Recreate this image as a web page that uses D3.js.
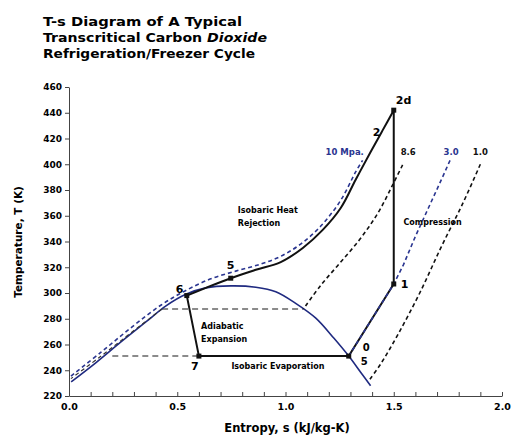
<!DOCTYPE html>
<html>
<head>
<meta charset="utf-8">
<script src="https://cdn.jsdelivr.net/npm/d3@7"></script>
<style>
  body { margin: 0; background: #fff; }
  text { font-family: "DejaVu Sans", sans-serif; font-weight: bold; }
</style>
</head>
<body>
<div id="chart"></div>
<script>
// ---- data (entropy s in kJ/kg-K, temperature T in K) ----
var titleLines = ["T-s Diagram of A Typical", "Transcritical Carbon |Dioxide", "Refrigeration/Freezer Cycle"];
var titleWidths = [199, 224, 212];
var sTicks = [0, 0.1, 0.2, 0.3, 0.4, 0.5, 0.6, 0.7, 0.8, 0.9, 1.0, 1.1, 1.2, 1.3, 1.4, 1.5, 1.6, 1.7, 1.8, 1.9, 2.0];
var sLabels = { "0": "0.0", "0.5": "0.5", "1": "1.0", "1.5": "1.5", "2": "2.0" };
var tTicks = [220, 240, 260, 280, 300, 320, 340, 360, 380, 400, 420, 440, 460];

// saturation dome
var dome = [[0.01, 231], [0.125, 246], [0.24, 262], [0.355, 277.5], [0.448, 290], [0.54, 299], [0.632, 304],
  [0.747, 305.5], [0.863, 304.5], [0.955, 301], [1.047, 292], [1.14, 280.5], [1.223, 265], [1.292, 251],
  [1.347, 238.5], [1.393, 228]];

// isobars
var iso10 = [[0.009, 235.5], [0.148, 254], [0.286, 273], [0.424, 290.5], [0.54, 302], [0.655, 311], [0.77, 317],
  [0.886, 322.5], [0.978, 328.5], [1.07, 338], [1.163, 352], [1.255, 372], [1.324, 394], [1.356, 403]];
var iso86 = [[1.541, 399.5], [1.495, 384], [1.43, 363], [1.347, 342.5], [1.255, 324], [1.163, 306], [1.083, 287.6]];
var iso86Liquid = [[0.43, 287.6], [0.286, 269], [0.148, 251], [0.009, 233.5]];
var iso30 = [[1.76, 403], [1.72, 388], [1.66, 366], [1.6, 344], [1.545, 322], [1.5, 307], [1.292, 251]];
var iso10b = [[1.9, 400], [1.82, 370], [1.72, 336], [1.62, 300], [1.52, 268], [1.44, 245], [1.39, 233]];
var flat86 = [[0.43, 287.6], [1.083, 287.6]];
var flatEvap = [[0.2, 251], [1.292, 251]];

// cycle
var heatRejection = [[1.5, 442], [1.449, 426.5], [1.393, 409.5], [1.324, 388], [1.255, 366], [1.172, 349],
  [1.08, 335], [0.978, 324], [0.863, 318], [0.747, 311.5], [0.632, 304], [0.544, 298]];
var cycleLegs = [[0.544, 298], [0.6, 251], [1.292, 251], [1.5, 307], [1.5, 442]];

var statePoints = [
  { name: "2d", s: 1.5, T: 442, dx: 2, dy: -6, size: 11 },
  { name: "2", s: 1.449, T: 426.5, dx: -10, dy: 6, size: 11 },
  { name: "1", s: 1.5, T: 307, dx: 7, dy: 4, size: 11 },
  { name: "0", s: 1.292, T: 251, dx: 14, dy: -5, size: 10 },
  { name: "5", s: 1.292, T: 251, dx: 12, dy: 9, size: 10 },
  { name: "7", s: 0.6, T: 251, dx: -8, dy: 14, size: 11 },
  { name: "6", s: 0.544, T: 298, dx: -11, dy: -3, size: 11 },
  { name: "5", s: 0.747, T: 311.5, dx: -4, dy: -9, size: 11 }
];
var markers = [[1.5, 442], [1.5, 307], [1.292, 251], [0.6, 251], [0.544, 298], [0.747, 311.5]];

var isobarLabels = [
  { text: "10 Mpa.", s: 1.185, T: 407, color: "#2a3590" },
  { text: "8.6", s: 1.532, T: 407, color: "#111" },
  { text: "3.0", s: 1.73, T: 407, color: "#2a3590" },
  { text: "1.0", s: 1.865, T: 407, color: "#111" }
];
var notes = [
  { lines: ["Isobaric Heat", "Rejection"], s: 0.78, T: 362 },
  { lines: ["Compression"], s: 1.545, T: 353 },
  { lines: ["Adiabatic", "Expansion"], s: 0.61, T: 272 },
  { lines: ["Isobaric Evaporation"], s: 0.75, T: 241 }
];

var W = 512, H = 437;
var svg = d3.select("#chart").append("svg").attr("width", W).attr("height", H);

var x = d3.scaleLinear().domain([0, 2]).range([69, 502]);
var y = d3.scaleLinear().domain([220, 460]).range([396, 87]);

// title
svg.append("g").selectAll("text")
  .data(titleLines)
  .enter().append("text")
  .attr("x", 43)
  .attr("y", function(d, i) { return 26 + i * 16; })
  .attr("textLength", function(d, i) { return titleWidths[i]; })
  .attr("lengthAdjust", "spacingAndGlyphs")
  .style("font-size", "12.5px")
  .each(function(d) {
    var parts = d.split("|");
    d3.select(this).append("tspan").text(parts[0]);
    if (parts[1]) d3.select(this).append("tspan").style("font-style", "italic").text(parts[1]);
  });

// axes
var xAxis = svg.append("g")
  .attr("transform", "translate(0,396)")
  .call(d3.axisBottom(x).tickValues(sTicks).tickSize(-4).tickSizeOuter(0)
    .tickFormat(function(d) { return sLabels[String(+d.toFixed(1))] || ""; }));
xAxis.selectAll("text").attr("dy", "1.15em").style("font-size", "9.5px");

var yAxis = svg.append("g")
  .attr("transform", "translate(69,0)")
  .call(d3.axisLeft(y).tickValues(tTicks).tickSize(4).tickSizeOuter(0));
yAxis.selectAll("text").style("font-size", "9px");
svg.selectAll(".domain, .tick line").attr("stroke", "#444");

svg.append("text")
  .attr("transform", "translate(22,242) rotate(-90)")
  .attr("text-anchor", "middle")
  .style("font-size", "10.5px")
  .text("Temperature, T (K)");
svg.append("text")
  .attr("x", 287).attr("y", 432)
  .attr("text-anchor", "middle")
  .style("font-size", "11.5px")
  .text("Entropy, s (kJ/kg-K)");

var smooth = d3.line()
  .x(function(d) { return x(d[0]); })
  .y(function(d) { return y(d[1]); })
  .curve(d3.curveCatmullRom);
var straight = d3.line()
  .x(function(d) { return x(d[0]); })
  .y(function(d) { return y(d[1]); });

// horizontal two-phase isobars
svg.append("path").attr("d", straight(flat86)).attr("fill", "none")
  .attr("stroke", "#666").attr("stroke-width", 1.5).attr("stroke-dasharray", "6,4");
svg.append("path").attr("d", straight(flatEvap)).attr("fill", "none")
  .attr("stroke", "#666").attr("stroke-width", 1.5).attr("stroke-dasharray", "6,4");

// dome
svg.append("path").attr("d", smooth(dome)).attr("fill", "none")
  .attr("stroke", "#1f2a80").attr("stroke-width", 1.6);

// cycle (black solid)
svg.append("path").attr("d", smooth(heatRejection)).attr("fill", "none")
  .attr("stroke", "#111").attr("stroke-width", 2);
svg.append("path").attr("d", straight(cycleLegs)).attr("fill", "none")
  .attr("stroke", "#111").attr("stroke-width", 2);

// dashed isobars
svg.append("path").attr("d", smooth(iso10)).attr("fill", "none")
  .attr("stroke", "#2a3590").attr("stroke-width", 1.6).attr("stroke-dasharray", "4,3");
svg.append("path").attr("d", smooth(iso86)).attr("fill", "none")
  .attr("stroke", "#111").attr("stroke-width", 1.6).attr("stroke-dasharray", "4,3");
svg.append("path").attr("d", smooth(iso86Liquid)).attr("fill", "none")
  .attr("stroke", "#333").attr("stroke-width", 1.2).attr("stroke-dasharray", "4,3");
svg.append("path").attr("d", straight(iso30)).attr("fill", "none")
  .attr("stroke", "#2a3590").attr("stroke-width", 1.6).attr("stroke-dasharray", "4,3");
svg.append("path").attr("d", smooth(iso10b)).attr("fill", "none")
  .attr("stroke", "#111").attr("stroke-width", 1.6).attr("stroke-dasharray", "4,3");

// state point markers
svg.append("g").selectAll("rect")
  .data(markers)
  .enter().append("rect")
  .attr("x", function(d) { return x(d[0]) - 2.5; })
  .attr("y", function(d) { return y(d[1]) - 2.5; })
  .attr("width", 5).attr("height", 5)
  .attr("fill", "#111");

svg.append("g").selectAll("text")
  .data(statePoints)
  .enter().append("text")
  .attr("x", function(d) { return x(d.s) + d.dx; })
  .attr("y", function(d) { return y(d.T) + d.dy; })
  .style("font-size", function(d) { return d.size + "px"; })
  .text(function(d) { return d.name; });

svg.append("g").selectAll("text")
  .data(isobarLabels)
  .enter().append("text")
  .attr("x", function(d) { return x(d.s); })
  .attr("y", function(d) { return y(d.T); })
  .attr("fill", function(d) { return d.color; })
  .style("font-size", "8.5px")
  .text(function(d) { return d.text; });

notes.forEach(function(n) {
  var t = svg.append("text")
    .attr("x", x(n.s)).attr("y", y(n.T))
    .style("font-size", "8px");
  n.lines.forEach(function(line, i) {
    t.append("tspan").attr("x", x(n.s)).attr("dy", i === 0 ? 0 : "1.6em").text(line);
  });
});
</script>
</body>
</html>
